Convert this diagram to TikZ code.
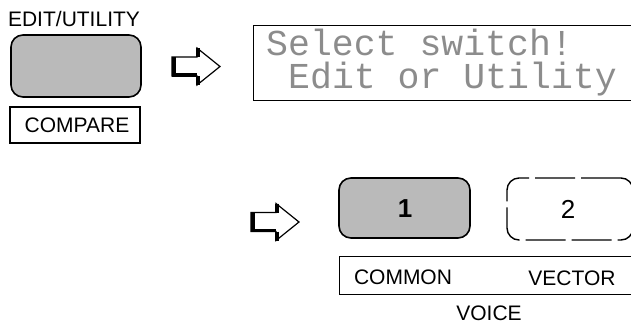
\documentclass[tikz,border=0pt]{standalone}
\usepackage{fontspec}
\setmainfont{Liberation Sans}
\setmonofont{Liberation Mono}
\begin{document}
\begin{tikzpicture}[x=1pt,y=-1pt,
  lbl/.style={font=\fontsize{21}{21}\selectfont, inner sep=0pt},
  numlbl/.style={font=\fontsize{26}{26}\selectfont, inner sep=0pt},
  lcdtxt/.style={font=\ttfamily\fontsize{36.5}{36.5}\selectfont, text=black!45, inner sep=0pt, anchor=base west},
  keyon/.style={draw, line width=1.6pt, rounded corners=12pt, fill=black!27, inner sep=0pt},
  keyoff/.style={draw, line width=1.4pt, rounded corners=12pt, dash pattern=on 40pt off 6pt, inner sep=0pt},
  framebox/.style={draw, line width=1.3pt, inner sep=0pt},
  fatarrow/.pic={
    \draw[line width=1.2pt, line join=miter, fill=white]
      (0,-9.5) -- (25,-9.5) -- (25,-18.5) -- (48,0) -- (25,18.5) -- (25,9.5) -- (0,9.5) -- cycle;
    \draw[line width=4pt] (1.5,-9.5) -- (1.5,9.5);
    \draw[line width=3.5pt] (0,8.5) -- (25,8.5);
    \draw[line width=3.5pt] (26,-18.5) -- (26,-9.5) (26,9.5) -- (26,18.5);
  }]
\useasboundingbox (0,0) rectangle (631,325);
\clip (0,0) rectangle (631,325);

% left column
\node[lbl] (edit) at (74,19) {EDIT/UTILITY};
\node[keyon, minimum width=130pt, minimum height=62pt] (editkey) at (76,66) {};
\node[framebox, minimum width=130pt, minimum height=36pt] (cmpbox) at (75,125) {};
\node[lbl] (cmp) at (77,125) {COMPARE};

% first arrow and LCD
\pic (arrA) at (172,66.5) {fatarrow};
\node[framebox, minimum width=400pt, minimum height=75pt, anchor=north west] (lcd) at (253,25) {};
\node[lcdtxt] (lcdA) at (266,55) {Select switch!};
\node[lcdtxt] (lcdB) at (288,88) {Edit or Utility};

% second arrow and voice keys
\pic (arrB) at (251,222) {fatarrow};
\node[keyon, minimum width=131pt, minimum height=60pt] (key1) at (404.5,208) {};
\node[numlbl, font=\fontsize{26}{26}\selectfont\bfseries] (one) at (405,209) {1};
\node[keyoff, minimum width=126pt, minimum height=62pt] (key2) at (570,209) {};
\node[numlbl] (two) at (568,209) {2};
\node[framebox, minimum width=320pt, minimum height=38pt, anchor=north west] (voicebox) at (339,256) {};
\node[lbl] (common) at (403,277) {COMMON};
\node[lbl] (vector) at (572,278) {VECTOR};
\node[lbl] (voice) at (489,313) {VOICE};
\end{tikzpicture}
\end{document}
